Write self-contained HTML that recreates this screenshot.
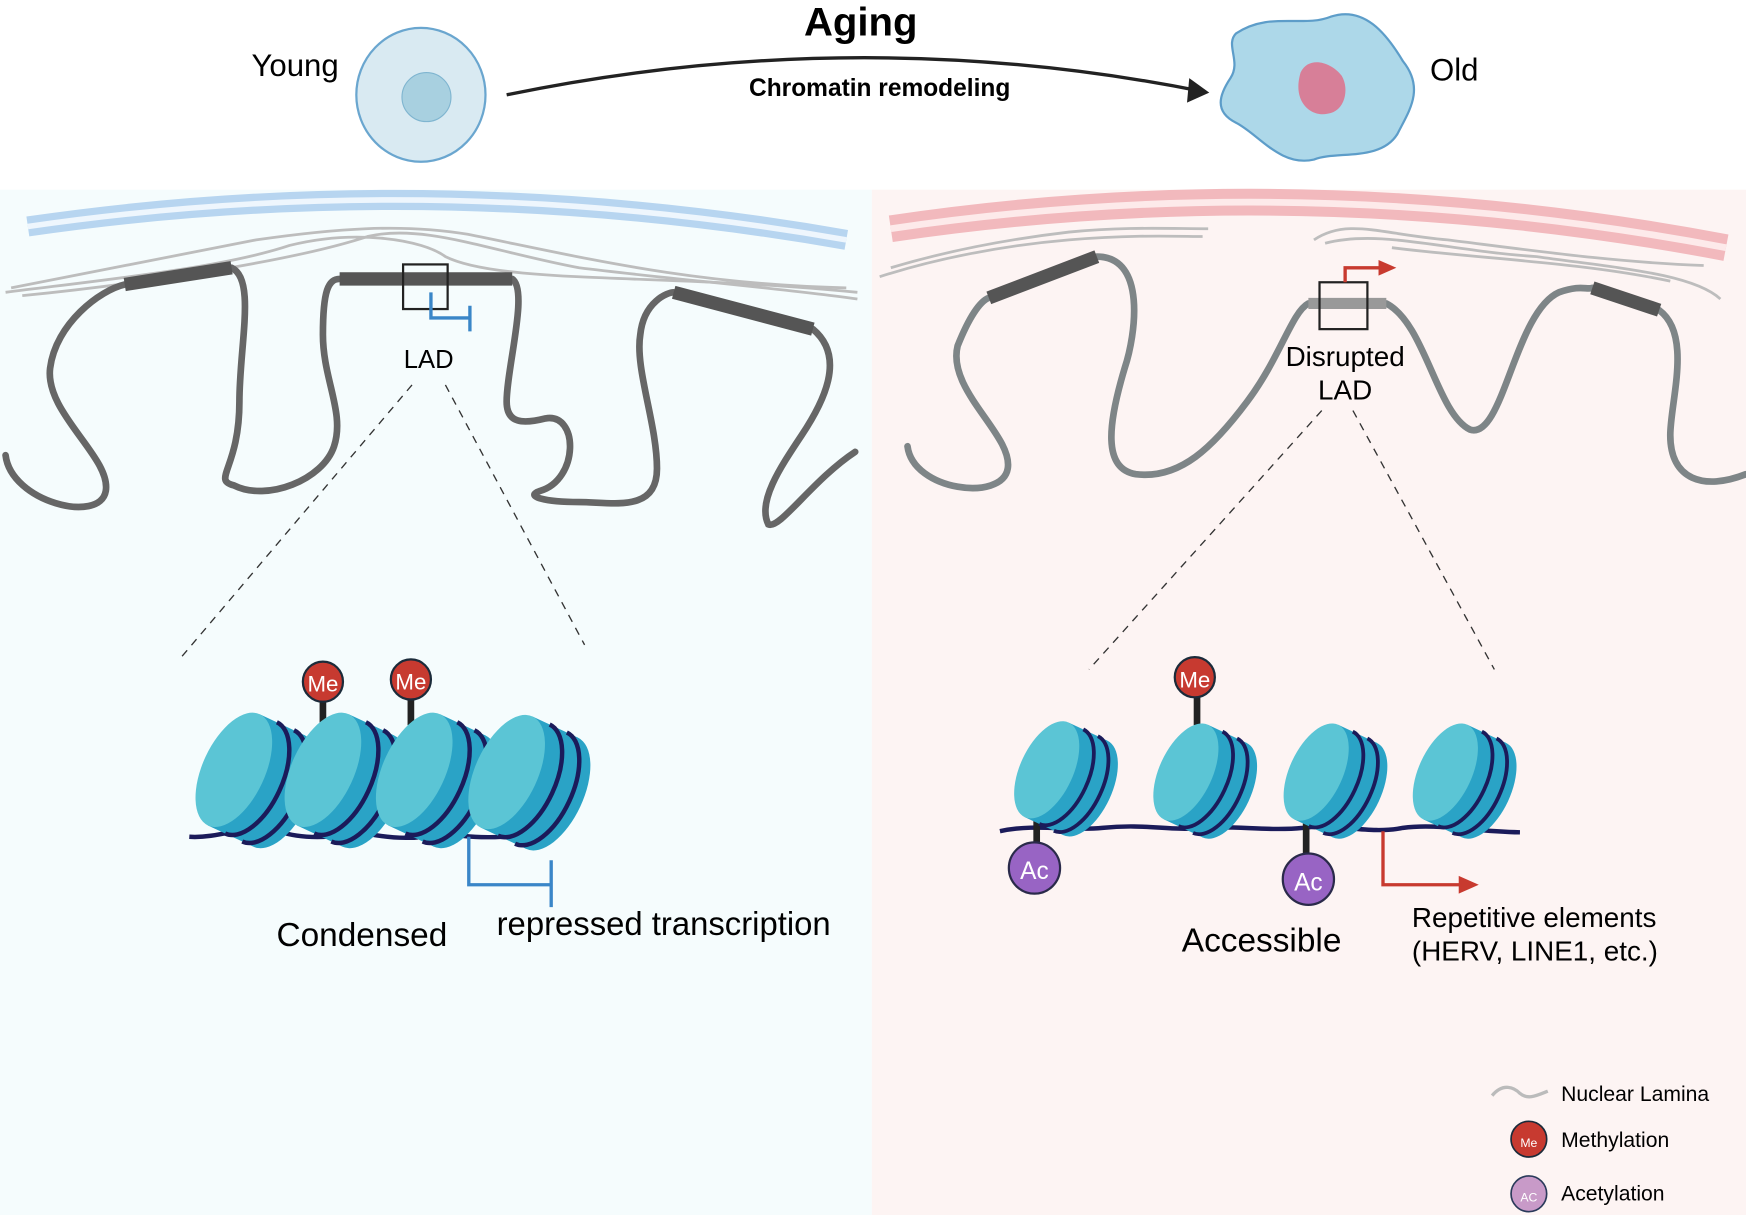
<!DOCTYPE html>
<html><head><meta charset="utf-8"><style>
html,body{margin:0;padding:0;background:#fff}
svg{display:block}
text{font-family:"Liberation Sans",sans-serif}
</style></head><body>
<svg width="1746" height="1215" viewBox="0 0 1568 1089" preserveAspectRatio="none" xmlns="http://www.w3.org/2000/svg">
<defs>
<g id="nuc">
<ellipse cx="45" cy="0" rx="28" ry="55" fill="#2aa3c6"/>
<rect x="0" y="-55" width="45" height="110" fill="#2aa3c6"/>
<path d="M17,-55 A28,55 0 0 1 17,55" stroke="#1b1b5a" stroke-width="4" fill="none"/>
<path d="M34,-55 A28,55 0 0 1 34,55" stroke="#1b1b5a" stroke-width="4" fill="none"/>
<ellipse cx="0" cy="0" rx="28" ry="55" fill="#5bc5d5"/>
</g>
</defs>
<rect x="0" y="170" width="783" height="919" fill="#f5fcfd"/>
<rect x="783" y="170" width="785" height="919" fill="#fdf4f3"/>

<text x="773" y="32" font-size="36" font-weight="bold" text-anchor="middle">Aging</text>
<text x="790" y="86" font-size="22" font-weight="bold" text-anchor="middle">Chromatin remodeling</text>
<path d="M455,85 Q770,20 1080,82" stroke="#222" stroke-width="3" fill="none"/>
<path d="M1068,70 L1086,83 L1066,92z" fill="#222"/>
<text x="265" y="68" font-size="28" text-anchor="middle">Young</text>
<text x="1306" y="72" font-size="28" text-anchor="middle">Old</text>
<ellipse cx="378" cy="85" rx="58" ry="60" fill="#d9eaf2" stroke="#6aa6cf" stroke-width="2"/>
<circle cx="383" cy="87" r="22" fill="#a8d0e0" stroke="#7fb5d0"/>
<path d="M1110,30 C1140,10 1170,25 1195,15 C1225,5 1245,30 1260,55 C1280,80 1265,100 1255,120 C1240,145 1200,135 1180,143 C1150,150 1130,120 1110,110 C1090,100 1095,85 1105,70 C1115,55 1100,40 1110,30z" fill="#add8e9" stroke="#5d9dc9" stroke-width="2"/>
<path d="M1168,65 C1175,50 1195,55 1205,68 C1212,80 1208,100 1192,102 C1178,105 1160,92 1168,65z" fill="#d77f98"/>

<path d="M25,203 Q390,150 760,215" stroke="#b7d5f0" stroke-width="18" fill="none"/>
<path d="M25,203 Q390,150 760,215" stroke="#eef6fd" stroke-width="5" fill="none"/>
<path d="M800,205 Q1170,150 1550,222" stroke="#f2b9bd" stroke-width="24" fill="none"/>
<path d="M800,205 Q1170,150 1550,222" stroke="#fdeaea" stroke-width="6" fill="none"/>
<g stroke="#bdbdbd" stroke-width="2.5" fill="none">
<path d="M5,262 C100,250 200,240 260,220 C320,205 380,215 400,230 C450,255 600,245 770,262"/>
<path d="M10,258 C80,245 150,230 230,215 C300,205 360,200 420,210 C520,230 620,255 760,258"/>
<path d="M20,265 C120,255 260,235 330,212 C380,200 440,225 520,240 C600,250 700,258 770,268"/>
<path d="M800,240 C850,225 900,215 960,208 C1010,203 1050,205 1085,205"/>
<path d="M790,248 C840,232 900,220 960,215 C1020,210 1060,212 1080,212"/>
<path d="M1180,215 C1210,195 1240,210 1300,215 C1380,225 1450,235 1530,238"/>
<path d="M1190,218 C1240,205 1300,225 1380,230 C1450,240 1520,245 1545,268"/>
<path d="M1250,222 C1330,232 1420,235 1500,252"/>
</g>

<g fill="none" stroke="#666" stroke-width="6" stroke-linecap="round">
<path d="M5,408 C10,450 90,470 95,440 C100,410 40,370 45,330 C50,290 90,260 112,255"/>
<path d="M208,240 C230,250 215,310 215,360 C215,420 190,430 210,435 C240,450 290,430 300,400 C310,370 290,340 290,300 C290,260 295,250 305,250"/>
<path d="M460,250 C475,260 455,330 455,360 C455,380 470,380 490,375 C520,370 520,430 485,440 C470,445 490,450 520,450 C550,450 590,460 590,420 C590,380 570,330 575,300 C578,270 600,262 605,262"/>
<path d="M730,295 C760,320 740,360 720,390 C700,420 680,450 690,470 C700,475 730,430 768,405"/>
</g>
<g stroke="#555" stroke-width="12">
<line x1="112" y1="255" x2="208" y2="240"/>
<line x1="305" y1="250" x2="460" y2="250"/>
<line x1="605" y1="262" x2="730" y2="295"/>
</g>
<rect x="362" y="237" width="40" height="40" fill="none" stroke="#222" stroke-width="2"/>
<path d="M387,262 L387,285 L422,285 M422,274 L422,297" stroke="#3a86c8" stroke-width="3" fill="none"/>
<text x="385" y="330" font-size="23" text-anchor="middle">LAD</text>

<g fill="none" stroke="#7e8587" stroke-width="6" stroke-linecap="round">
<path d="M815,400 C820,440 900,450 905,420 C910,390 850,350 860,310 C870,285 880,270 888,267"/>
<path d="M985,230 C1030,230 1020,300 1010,330 C995,380 990,420 1020,425 C1060,430 1090,400 1120,360 C1150,320 1160,280 1175,272"/>
<path d="M1245,272 C1280,290 1290,370 1320,385 C1350,395 1360,280 1400,262 C1420,255 1425,260 1430,258"/>
<path d="M1490,278 C1520,300 1500,360 1500,390 C1500,430 1530,440 1568,425"/>
</g>
<g stroke="#555" stroke-width="12">
<line x1="888" y1="267" x2="985" y2="230"/>
<line x1="1430" y1="258" x2="1490" y2="278"/>
</g>
<line x1="1175" y1="272" x2="1245" y2="272" stroke="#999" stroke-width="10"/>
<rect x="1185" y="253" width="43" height="42" fill="none" stroke="#222" stroke-width="2"/>
<path d="M1208,253 L1208,240 L1240,240" stroke="#c83a2f" stroke-width="3" fill="none"/>
<path d="M1238,233 L1254,240 L1238,247z" fill="#c83a2f"/>
<text x="1208" y="328" font-size="25" text-anchor="middle">Disrupted</text>
<text x="1208" y="358" font-size="25" text-anchor="middle">LAD</text>

<g stroke="#333" stroke-width="1.2" stroke-dasharray="7,6">
<line x1="370" y1="345" x2="162" y2="590"/>
<line x1="400" y1="345" x2="525" y2="578"/>
<line x1="1187" y1="368" x2="978" y2="600"/>
<line x1="1215" y1="368" x2="1342" y2="600"/>
</g>

<path d="M170,750 C200,752 230,735 250,745 C270,752 300,752 320,745 C340,750 370,755 400,746 C420,752 460,752 480,745 L495,748" stroke="#1b1b5a" stroke-width="4" fill="none"/>
<line x1="290" y1="625" x2="290" y2="650" stroke="#222" stroke-width="6"/>
<line x1="369" y1="623" x2="369" y2="650" stroke="#222" stroke-width="6"/>
<use href="#nuc" transform="translate(210,690) rotate(25)"/>
<use href="#nuc" transform="translate(290,690) rotate(25)"/>
<use href="#nuc" transform="translate(372,690) rotate(25)"/>
<use href="#nuc" transform="translate(455,692) rotate(25)"/>
<circle cx="290" cy="611" r="18" fill="#c73a30" stroke="#1b2b3a" stroke-width="2"/>
<text x="290" y="620" font-size="20" fill="#fff" text-anchor="middle">Me</text>
<circle cx="369" cy="609" r="18" fill="#c73a30" stroke="#1b2b3a" stroke-width="2"/>
<text x="369" y="618" font-size="20" fill="#fff" text-anchor="middle">Me</text>
<path d="M421,750 L421,793 L495,793 M495,771 L495,813" stroke="#3a86c8" stroke-width="3" fill="none"/>
<text x="325" y="848" font-size="30" text-anchor="middle">Condensed</text>
<text x="446" y="838" font-size="29.5">repressed transcription</text>

<path d="M898,745 C930,738 960,745 990,742 C1030,738 1050,745 1080,742 C1110,740 1140,745 1170,742 C1200,738 1230,748 1260,742 C1290,738 1320,745 1365,746" stroke="#1b1b5a" stroke-width="4" fill="none"/>
<line x1="1075" y1="620" x2="1075" y2="650" stroke="#222" stroke-width="6"/>
<line x1="931" y1="728" x2="931" y2="760" stroke="#222" stroke-width="6"/>
<line x1="1173" y1="738" x2="1173" y2="770" stroke="#222" stroke-width="6"/>
<use href="#nuc" transform="translate(940,690) rotate(25) scale(0.85)"/>
<use href="#nuc" transform="translate(1065,692) rotate(25) scale(0.85)"/>
<use href="#nuc" transform="translate(1182,692) rotate(25) scale(0.85)"/>
<use href="#nuc" transform="translate(1298,692) rotate(25) scale(0.85)"/>
<circle cx="1073" cy="607" r="18" fill="#c73a30" stroke="#1b2b3a" stroke-width="2"/>
<text x="1073" y="616" font-size="20" fill="#fff" text-anchor="middle">Me</text>
<circle cx="929" cy="778" r="23" fill="#9864c4" stroke="#2a2a4a" stroke-width="2"/>
<text x="929" y="788" font-size="22" fill="#fff" text-anchor="middle">Ac</text>
<circle cx="1175" cy="788" r="23" fill="#9864c4" stroke="#2a2a4a" stroke-width="2"/>
<text x="1175" y="798" font-size="22" fill="#fff" text-anchor="middle">Ac</text>
<path d="M1242,745 L1242,793 L1312,793" stroke="#c83a2f" stroke-width="3" fill="none"/>
<path d="M1310,785 L1328,793 L1310,801z" fill="#c83a2f"/>
<text x="1133" y="853" font-size="30" text-anchor="middle">Accessible</text>
<text x="1268" y="831" font-size="25">Repetitive elements</text>
<text x="1268" y="861" font-size="25">(HERV, LINE1, etc.)</text>

<path d="M1340,982 C1350,970 1360,975 1365,980 C1372,986 1380,982 1390,978" stroke="#bbb" stroke-width="3" fill="none"/>
<text x="1402" y="987" font-size="19">Nuclear Lamina</text>
<circle cx="1373" cy="1021" r="16" fill="#c73a30" stroke="#1b2b3a" stroke-width="1.5"/>
<text x="1373" y="1028" font-size="11" fill="#fff" text-anchor="middle">Me</text>
<text x="1402" y="1028" font-size="19">Methylation</text>
<circle cx="1373" cy="1070" r="16" fill="#c89ac8" stroke="#2a3a5a" stroke-width="1.5"/>
<text x="1373" y="1077" font-size="11" fill="#fff" text-anchor="middle">AC</text>
<text x="1402" y="1076" font-size="19">Acetylation</text>
</svg>
</body></html>
